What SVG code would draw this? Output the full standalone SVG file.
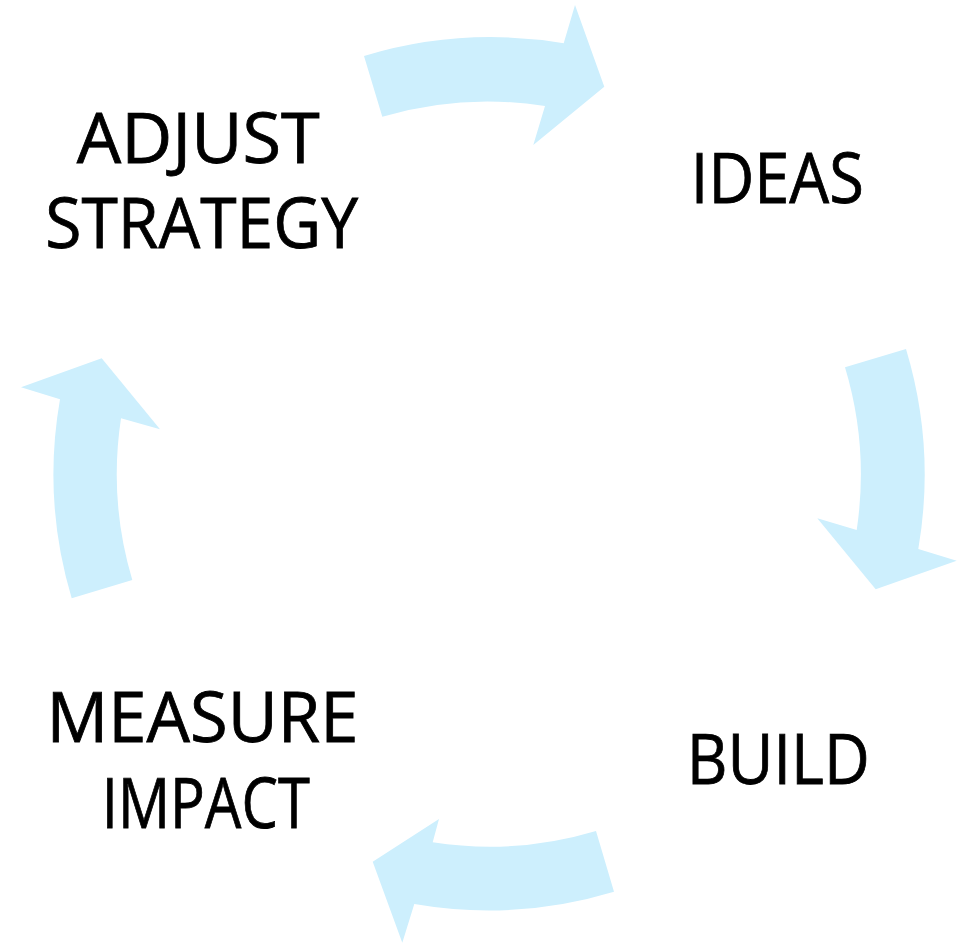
<svg xmlns="http://www.w3.org/2000/svg" width="965" height="952" viewBox="0 0 965 952">
<style>
.arrow{fill:#cdeffd;stroke:none}
.lbl{font-family:"Open Sans","Liberation Sans",sans-serif;font-size:69px;fill:#000;stroke:#000;stroke-width:0.8;text-anchor:middle}
</style>
<rect width="965" height="952" fill="#fff"/>
<g id="connectors">
<path class="arrow" d="M364,56 A438,438 0 0 1 563.7,43.3 L575,5 L604.3,86.7 L533.3,145 L545,106 A375,375 0 0 0 382.3,116.7 Z"/>
<path class="arrow" d="M906,349 A437,437 0 0 1 918.3,549 L956.7,560.7 L875.7,589.3 L817.3,518.3 L856.7,530 A373,373 0 0 0 845,367.3 Z"/>
<path class="arrow" d="M614,891.7 A434,434 0 0 1 414.3,904 L402.3,942.7 L372.7,861.7 L439,819 L432.7,842.3 A371,371 0 0 0 596,831 Z"/>
<path class="arrow" d="M71.7,598.3 A434,434 0 0 1 60,399.3 L21,387.3 L101.7,358.3 L160,429.3 L121,418.3 A371,371 0 0 0 132.3,580 Z"/>
</g>
<g id="adjust-strategy">
<text class="lbl" x="198.3" y="162.7" textLength="243" lengthAdjust="spacingAndGlyphs">ADJUST</text>
<text class="lbl" x="201.7" y="248.3" textLength="313" lengthAdjust="spacingAndGlyphs">STRATEGY</text>
</g>
<g id="ideas">
<text class="lbl" x="777.3" y="203.3" textLength="173" lengthAdjust="spacingAndGlyphs">IDEAS</text>
</g>
<g id="build">
<text class="lbl" x="778.3" y="784" textLength="183" lengthAdjust="spacingAndGlyphs">BUILD</text>
</g>
<g id="measure-impact">
<text class="lbl" x="202.5" y="741.7" textLength="312" lengthAdjust="spacingAndGlyphs">MEASURE</text>
<text class="lbl" x="205.8" y="828.3" textLength="208" lengthAdjust="spacingAndGlyphs">IMPACT</text>
</g>
</svg>
